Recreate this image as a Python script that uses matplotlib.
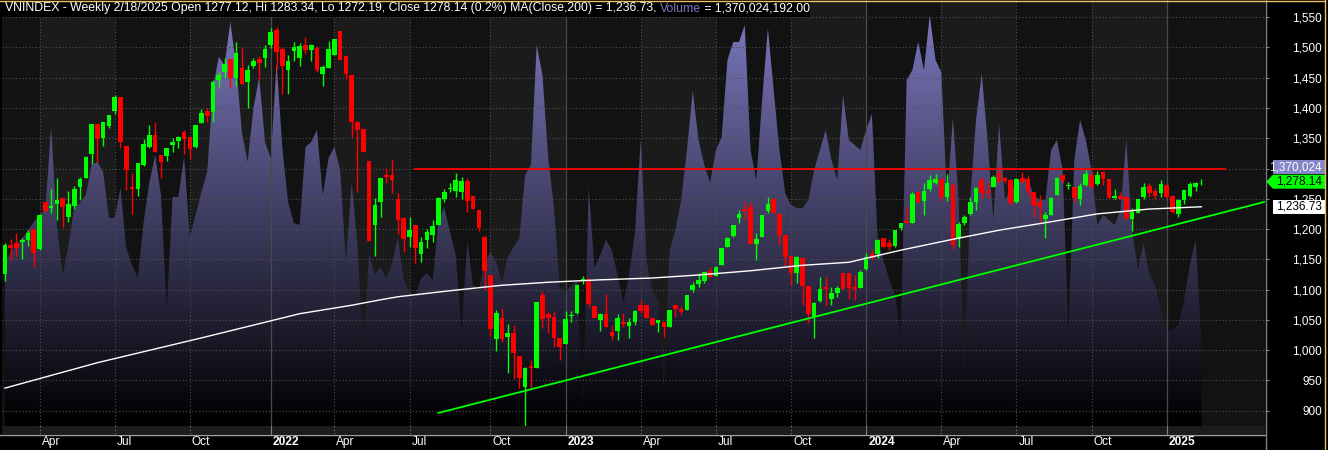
import numpy as np
import pandas as pd
import matplotlib
matplotlib.use("Agg")
import matplotlib.pyplot as plt
import matplotlib.transforms as mtransforms
from matplotlib.colors import LinearSegmentedColormap
from matplotlib.patches import Rectangle, Polygon
from matplotlib.lines import Line2D

plt.rcParams["font.family"] = ["Liberation Sans", "DejaVu Sans"]

# weekly bars (Friday); Tet weeks without any trading are not in the data
dates = pd.date_range("2021-02-19", "2025-02-21", freq="W-FRI")
dates = dates.drop(pd.to_datetime(["2022-02-04", "2025-01-31"]))

opens = [
    1126, 1173, 1177, 1178, 1182, 1200, 1167, 1245, 1235, 1241,
    1251, 1220, 1238, 1269, 1284, 1324, 1374, 1350, 1370, 1395,
    1418, 1337, 1269, 1266, 1306, 1336, 1355, 1322, 1321, 1339,
    1345, 1360, 1352, 1336, 1375, 1395, 1393, 1446, 1460, 1481,
    1450, 1466, 1443, 1469, 1481, 1483, 1504, 1529, 1498, 1463,
    1494, 1483, 1504, 1496, 1499, 1456, 1466, 1488, 1527, 1486,
    1455, 1377, 1365, 1312, 1207, 1245, 1289, 1289, 1250, 1218,
    1187, 1207, 1159, 1182, 1190, 1207, 1250, 1266, 1263, 1261,
    1279, 1255, 1231, 1187, 1124, 1018, 1053, 1021, 1028, 990,
    939, 973, 970, 1091, 1060, 1055, 1020, 1010, 1056, 1061,
    1114, 1117, 1073, 1050, 1060, 1030, 1031, 1046, 1040, 1046,
    1074, 1074, 1053, 1045, 1046, 1038, 1074, 1068, 1066, 1099,
    1109, 1114, 1131, 1122, 1140, 1170, 1188, 1218, 1233, 1236,
    1175, 1187, 1230, 1250, 1225, 1190, 1155, 1128, 1152, 1105,
    1055, 1081, 1104, 1084, 1094, 1127, 1127, 1104, 1102, 1134,
    1159, 1159, 1185, 1177, 1172, 1202, 1213, 1210, 1261, 1246,
    1266, 1276, 1283, 1253, 1273, 1185, 1210, 1225, 1245, 1281,
    1263, 1269, 1293, 1284, 1281, 1245, 1284, 1283, 1261, 1245,
    1216, 1223, 1256, 1289, 1271, 1269, 1250, 1273, 1289, 1274,
    1294, 1283, 1251, 1255, 1253, 1216, 1226, 1253, 1271, 1263,
    1260, 1273, 1255, 1225, 1248, 1255, 1269, 1277.12,
]
highs = [
    1177, 1183, 1193, 1185, 1198, 1200, 1225, 1245, 1266, 1284,
    1251, 1263, 1271, 1286, 1321, 1374, 1374, 1377, 1388, 1421,
    1418, 1337, 1292, 1309, 1349, 1372, 1377, 1322, 1334, 1350,
    1354, 1364, 1352, 1372, 1398, 1400, 1446, 1460, 1483, 1481,
    1509, 1499, 1471, 1483, 1486, 1504, 1532, 1534, 1501, 1488,
    1509, 1507, 1517, 1506, 1502, 1471, 1511, 1514, 1527, 1488,
    1455, 1379, 1365, 1312, 1251, 1284, 1301, 1314, 1260, 1220,
    1220, 1207, 1187, 1200, 1215, 1253, 1266, 1276, 1292, 1286,
    1284, 1255, 1231, 1188, 1124, 1066, 1069, 1043, 1041, 990,
    972, 983, 1079, 1098, 1063, 1064, 1020, 1064, 1064, 1109,
    1122, 1117, 1073, 1061, 1093, 1041, 1060, 1061, 1053, 1066,
    1083, 1074, 1053, 1050, 1046, 1066, 1074, 1073, 1091, 1112,
    1127, 1129, 1137, 1139, 1169, 1187, 1207, 1231, 1245, 1245,
    1193, 1223, 1253, 1250, 1225, 1190, 1155, 1155, 1154, 1105,
    1079, 1121, 1121, 1104, 1106, 1127, 1127, 1124, 1132, 1160,
    1167, 1183, 1185, 1183, 1198, 1210, 1238, 1261, 1263, 1276,
    1289, 1291, 1283, 1291, 1276, 1212, 1223, 1253, 1269, 1286,
    1278, 1289, 1304, 1286, 1283, 1284, 1294, 1289, 1261, 1256,
    1228, 1253, 1286, 1289, 1278, 1269, 1276, 1298, 1296, 1296,
    1296, 1283, 1266, 1261, 1253, 1235, 1250, 1276, 1276, 1268,
    1281, 1273, 1255, 1250, 1264, 1278, 1278, 1283.34,
]
lows = [
    1114, 1149, 1155, 1150, 1172, 1137, 1165, 1228, 1226, 1215,
    1203, 1212, 1233, 1248, 1284, 1307, 1311, 1337, 1367, 1390,
    1334, 1264, 1225, 1255, 1304, 1334, 1327, 1284, 1312, 1327,
    1334, 1324, 1316, 1334, 1375, 1377, 1377, 1435, 1450, 1433,
    1436, 1440, 1400, 1466, 1446, 1468, 1499, 1464, 1423, 1423,
    1478, 1469, 1489, 1478, 1460, 1436, 1466, 1488, 1479, 1448,
    1352, 1261, 1327, 1180, 1155, 1220, 1276, 1259, 1192, 1162,
    1170, 1144, 1145, 1169, 1178, 1207, 1245, 1261, 1253, 1250,
    1228, 1233, 1197, 1099, 1023, 998, 1013, 962, 952, 937,
    874, 937, 970, 1036, 1028, 1005, 983, 1010, 1046, 1060,
    1109, 1071, 1053, 1031, 1038, 1017, 1017, 1038, 1020, 1041,
    1061, 1053, 1041, 1030, 1021, 1038, 1055, 1058, 1066, 1096,
    1104, 1111, 1121, 1122, 1140, 1170, 1187, 1210, 1215, 1175,
    1149, 1187, 1226, 1226, 1174, 1140, 1107, 1110, 1074, 1045,
    1020, 1079, 1074, 1074, 1088, 1101, 1084, 1083, 1102, 1132,
    1149, 1152, 1170, 1165, 1170, 1198, 1210, 1210, 1243, 1223,
    1263, 1274, 1246, 1246, 1167, 1170, 1207, 1223, 1231, 1251,
    1251, 1269, 1278, 1276, 1240, 1243, 1276, 1256, 1220, 1212,
    1185, 1223, 1256, 1276, 1266, 1245, 1240, 1271, 1269, 1273,
    1273, 1251, 1250, 1250, 1215, 1197, 1226, 1250, 1253, 1250,
    1253, 1251, 1226, 1220, 1241, 1253, 1263, 1272.19,
]
closes = [
    1173, 1168, 1168, 1182, 1193, 1160, 1223, 1230, 1238, 1248,
    1236, 1241, 1266, 1283, 1319, 1374, 1349, 1377, 1388, 1418,
    1344, 1298, 1266, 1309, 1340, 1355, 1327, 1311, 1334, 1344,
    1352, 1349, 1332, 1372, 1392, 1387, 1443, 1455, 1473, 1450,
    1491, 1440, 1463, 1478, 1474, 1497, 1526, 1493, 1469, 1478,
    1501, 1502, 1496, 1504, 1463, 1468, 1497, 1514, 1479, 1456,
    1377, 1364, 1327, 1180, 1240, 1284, 1286, 1281, 1215, 1183,
    1198, 1169, 1178, 1195, 1205, 1251, 1261, 1268, 1281, 1279,
    1246, 1233, 1202, 1131, 1035, 1061, 1018, 1028, 995, 954,
    970, 970, 1079, 1051, 1053, 1020, 1005, 1051, 1058, 1107,
    1117, 1076, 1053, 1060, 1038, 1023, 1053, 1043, 1046, 1064,
    1064, 1053, 1041, 1050, 1038, 1066, 1068, 1063, 1091, 1107,
    1116, 1129, 1121, 1137, 1169, 1185, 1207, 1225, 1230, 1175,
    1183, 1223, 1241, 1226, 1190, 1154, 1127, 1154, 1105, 1059,
    1078, 1101, 1101, 1094, 1102, 1101, 1102, 1101, 1129, 1154,
    1152, 1182, 1170, 1170, 1198, 1210, 1210, 1258, 1245, 1263,
    1281, 1283, 1253, 1276, 1174, 1208, 1220, 1245, 1268, 1260,
    1260, 1286, 1278, 1279, 1243, 1283, 1278, 1263, 1240, 1236,
    1223, 1251, 1284, 1281, 1273, 1251, 1271, 1291, 1269, 1289,
    1283, 1251, 1255, 1250, 1218, 1228, 1250, 1269, 1260, 1255,
    1274, 1253, 1228, 1248, 1264, 1274, 1276, 1278.14,
]
# weekly volume, millions of shares
volumes = [
    2583, 2741, 2851, 2961, 3087, 3213, 3323, 3402, 4709, 3166,
    2378, 2851, 3449, 3512, 3638, 4111, 4158, 4001, 3276, 3276,
    3749, 2804, 2536, 2331, 3213, 3843, 4268, 3638, 1827, 3607,
    3607, 4237, 2977, 3323, 3686, 4001, 5324, 5812, 5686, 6363,
    5686, 4631, 4158, 5009, 5497, 4473, 4221, 5733, 4379, 3528,
    3197, 3166, 4394, 4473, 4662, 3638, 4221, 4394, 4032, 2583,
    3827, 2851, 1150, 2725, 2378, 2504, 2331, 2567, 2961, 2300,
    2111, 2032, 2331, 2410, 2300, 3213, 3449, 3056, 2693, 1512,
    2898, 2221, 2142, 2583, 2741, 2583, 2268, 2662, 2819, 2961,
    3953, 4111, 6001, 5528, 4221, 3434, 2174, 2111, 2221, 2300,
    252, 3749, 2489, 2693, 2930, 2772, 2378, 1937, 2378, 3056,
    4505, 2615, 2142, 1985, 567, 2772, 3087, 3560, 4347, 5276,
    4505, 4111, 3827, 4347, 4552, 5765, 6048, 6048, 6316, 4347,
    3875, 5135, 6269, 5292, 4347, 3670, 3481, 3434, 3434, 3560,
    4032, 4347, 4662, 4190, 3875, 5213, 4505, 4426, 4347, 4662,
    4914, 2930, 2615, 2300, 2063, 1386, 5450, 5607, 6048, 5607,
    6473, 5765, 5576, 3560, 4851, 3560, 756, 3560, 4820, 5544,
    4505, 3245, 4757, 3560, 3717, 3796, 3906, 3875, 3638, 3560,
    3560, 4347, 4505, 4032, 1465, 4190, 4820, 4505, 4032, 3166,
    3323, 3245, 3166, 3402, 4505, 3087, 2457, 2882, 2378, 2221,
    1827, 1512, 1512, 1591, 1985, 2536, 2930, 1370.024192,
]

# MA(Close,200) read at a number of bars
ma_bars = [0, 16, 34, 51, 60, 65, 68, 77, 86, 94, 103, 112,
           120, 129, 138, 146, 155, 164, 172, 181, 189, 198, 207]
ma_vals = [937, 979, 1020, 1060, 1074, 1083, 1088, 1098, 1107, 1112, 1116, 1119,
           1124, 1131, 1140, 1145, 1165, 1183, 1198, 1212, 1225, 1233, 1236.73]

# drawn lines
resist_bars = [71, 211]
resist_vals = [1300, 1300]
support_bars = [75, 218]
support_vals = [896, 1245]

price_levels = list(range(900, 1551, 50))
hidden_levels = [1300]   # covered by the volume tag in the original

# ---------------------------------------------------------------------------
o = np.array(opens, float)
h = np.array(highs, float)
l = np.array(lows, float)
c = np.array(closes, float)
v = np.array(volumes, float)
x = np.arange(len(c))

W, H = 1328, 450
fig = plt.figure(figsize=(W / 100, H / 100), dpi=100, facecolor="black")


def fx(px):
    return px / W


def fy(py):
    return 1 - py / H


x_max = 218
y_lo, y_hi = 874.4, 1578.5
vol_top = 6710

axv = fig.add_axes([fx(2), fy(426), (1265 - 2) / W, 426 / H])
ax = axv.twinx()
axv.set_facecolor("#121212")

# quarter ticks: first bar of Jan/Apr/Jul/Oct
q_starts = pd.date_range("2021-04-01", "2025-01-01", freq="QS")
q_ticks = np.searchsorted(dates.values, q_starts.values)

# lighter background for Q2 and Q4
for k, qs in enumerate(q_starts):
    if qs.month in (4, 10):
        end = q_ticks[k + 1] if k + 1 < len(q_ticks) else x_max
        axv.axvspan(q_ticks[k], end, color="#1b1b1b", lw=0, zorder=0)

# volume area with vertical gradient
vol_cmap = LinearSegmentedColormap.from_list("vol", ["#000000", "#7f7bc4"])
area = axv.fill_between(x, 0, v, facecolor="none", edgecolor="none")
grad = np.linspace(0, 1, 256).reshape(-1, 1)
img = axv.imshow(grad, extent=[-0.5, x_max, 0, vol_top], origin="lower",
                 aspect="auto", cmap=vol_cmap, zorder=1, interpolation="bilinear")
img.set_clip_path(area.get_paths()[0], transform=axv.transData)

axv.set_xlim(-0.5, x_max)
axv.set_ylim(0, vol_top)
ax.set_ylim(y_lo, y_hi)

# grid
for lv in price_levels:
    ax.axhline(lv, color="#505050", lw=0.8, ls=(0, (1, 2)), zorder=0.5)
for t, qs in zip(q_ticks, q_starts):
    if qs.month == 1:
        ax.axvline(t, color="#4a4a4a", lw=0.9, zorder=0.5)
    else:
        ax.axvline(t, color="#505050", lw=0.8, ls=(0, (1, 2)), zorder=0.5)

# candles
cols = np.where(c >= o, "#00ff00", "#ff0000")
ax.vlines(x, l, h, colors=cols, lw=1.0, zorder=3)
ax.bar(x, np.maximum(np.abs(c - o), 1.2), bottom=np.minimum(o, c), width=0.8,
       color=cols, lw=0, zorder=4)

# MA and trend lines
ax.plot(ma_bars, ma_vals, color="white", lw=1.0, zorder=5)
ax.plot(resist_bars, resist_vals, color="#ff0000", lw=1.3, zorder=5)
ax.plot(support_bars, support_vals, color="#00ff00", lw=1.3, zorder=5)

# axes styling
for sp in list(ax.spines.values()) + list(axv.spines.values()):
    sp.set_visible(False)
axv.set_yticks([])
axv.tick_params(axis="x", length=0, labelbottom=False)
ax.set_yticks(price_levels)
ax.set_yticklabels(["" if lv in hidden_levels else f"{lv:,}" for lv in price_levels])
ax.tick_params(axis="y", colors="#808080", labelcolor="white", length=3,
               width=0.8, pad=38, labelsize=8.5)
for lab in ax.get_yticklabels():
    lab.set_horizontalalignment("right")

# x axis strip and labels
fig.add_artist(Rectangle((fx(2), fy(434)), (1263) / W, 8 / H,
                         transform=fig.transFigure, facecolor="#1c1c1c",
                         edgecolor="none", zorder=-1))
fig.add_artist(Line2D([0, fx(1265)], [fy(434.5)] * 2, transform=fig.transFigure,
                      color="#a0a0a0", lw=1.0))
fig.add_artist(Line2D([fx(1265.5)] * 2, [0, 1], transform=fig.transFigure,
                      color="#808080", lw=1.0))
xtrans = mtransforms.blended_transform_factory(ax.transData, fig.transFigure)
for t, qs in zip(q_ticks, q_starts):
    is_year = qs.month == 1
    ax.plot([t, t], [fy(426), fy(434)], transform=xtrans, clip_on=False,
            color="#808080", lw=0.8, ls="-" if is_year else (0, (1, 2)))
    ax.text(t + 0.35, fy(442), str(qs.year) if is_year else qs.strftime("%b"),
            transform=xtrans, color="white", fontsize=8.6,
            fontweight="bold" if is_year else "normal",
            ha="left", va="center", clip_on=False)

# value tags on the price axis
tag_tr = mtransforms.blended_transform_factory(ax.transAxes, ax.transData)


def ax_x(px):
    return (px - 2) / 1263


def value_tag(yval, text, face, tcol, arrow=False):
    hh = 7.0 / 0.605
    x0, x1, xa = ax_x(1273), ax_x(1325), ax_x(1266)
    if arrow:
        pts = [(xa, yval), (x0, yval + hh), (x1, yval + hh), (x1, yval - hh), (x0, yval - hh)]
    else:
        pts = [(x0, yval + hh), (x1, yval + hh), (x1, yval - hh), (x0, yval - hh)]
    ax.add_patch(Polygon(pts, closed=True, transform=tag_tr, facecolor=face,
                         edgecolor="none", clip_on=False, zorder=6))
    ax.text(ax_x(1322), yval, text, transform=tag_tr, ha="right", va="center",
            color=tcol, fontsize=8.5, zorder=7, clip_on=False)


value_tag(1302, f"{v[-1] * 1000:,.0f}", "#8585c8", "white")
value_tag(c[-1], f"{c[-1]:,.2f}", "#00ff00", "black", arrow=True)
value_tag(ma_vals[-1], f"{ma_vals[-1]:,.2f}", "white", "black")

# title
fig.add_artist(Rectangle((0, fy(17)), fx(810), 17 / H, transform=fig.transFigure,
                         facecolor="black", edgecolor="none", zorder=10))
pct = (c[-1] / c[-2] - 1) * 100
parts = [
    (f"VNINDEX - Weekly 2/18/2025 Open {o[-1]:.2f}, Hi {h[-1]:.2f}, Lo {l[-1]:.2f}, "
     f"Close {c[-1]:.2f} ({pct:.1f}%) MA(Close,200) = {ma_vals[-1]:,.2f}, ", "white"),
    ("Volume", "#7b7bc0"),
    (f" = {v[-1] * 1e6:,.2f}", "white"),
]
renderer = fig.canvas.get_renderer()
xpos = fx(5)
for txt, col in parts:
    t = fig.text(xpos, fy(8.5), txt, color=col, fontsize=8.8, ha="left",
                 va="center", zorder=11)
    bb = t.get_window_extent(renderer)
    xpos = bb.x1 / W

# border
fig.add_artist(Line2D([0, fx(1325)], [fy(0.5)] * 2, transform=fig.transFigure,
                      color="#f0c060", lw=1.0, zorder=12))
fig.add_artist(Line2D([fx(1324.5)] * 2, [0, 1], transform=fig.transFigure,
                      color="#f0c060", lw=1.0, zorder=12))

fig.savefig("out.png", dpi=100, facecolor="black")
